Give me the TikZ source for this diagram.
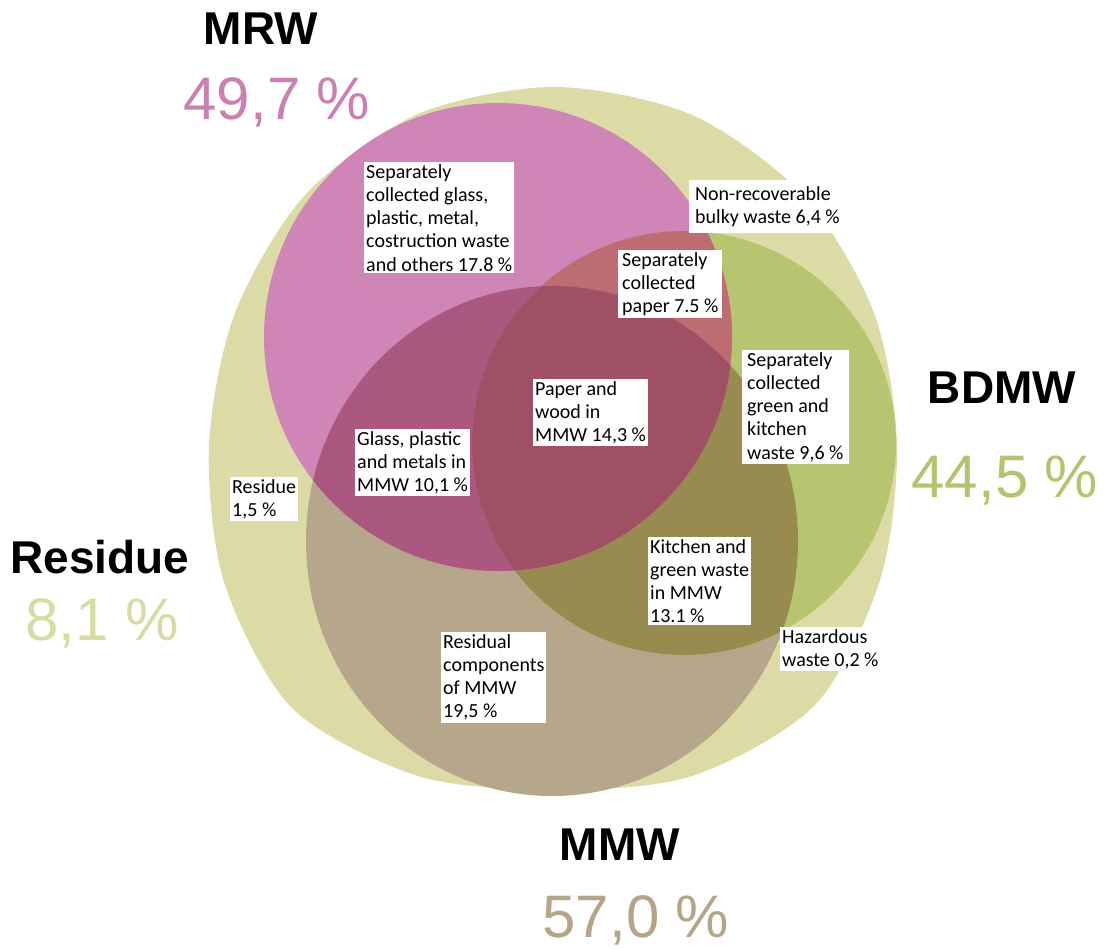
\documentclass[tikz,border=0pt]{standalone}
\usepackage{fontspec}
\setmainfont{Carlito}
\newfontfamily\headfont{Liberation Sans}

\definecolor{pale}{HTML}{DCDBA6}
\definecolor{mrwc}{HTML}{CF86B6}
\definecolor{bdc}{HTML}{B8C570}
\definecolor{mmwc}{HTML}{B6A68C}
\definecolor{mrwmmw}{HTML}{AA5880}
\definecolor{mrwbd}{HTML}{BD6C72}
\definecolor{bdmmw}{HTML}{978B50}
\definecolor{allc}{HTML}{9F5064}
\definecolor{mrwt}{HTML}{CC80B2}
\definecolor{bdt}{HTML}{B4C46E}
\definecolor{rest}{HTML}{D8DBA2}
\definecolor{mmwt}{HTML}{B4A58A}

\begin{document}
\begin{tikzpicture}[x=1pt, y=-1pt,
  lbl/.style={fill=white, inner sep=2pt, anchor=north west, align=left,
    font=\fontsize{20}{23.3}\selectfont},
  head/.style={anchor=base, font=\headfont\bfseries\fontsize{46}{50}\selectfont},
  pct/.style={anchor=base, font=\headfont\fontsize{60}{64}\selectfont}]
\useasboundingbox (0,0) rectangle (1107,949);
\coordinate (mrw) at (498,337);
\coordinate (bd) at (684,443);
\coordinate (mmw) at (552,541);
% residue (whole set)
\fill[pale] plot[smooth cycle] coordinates {(897,445) (880,580) (815,705) (692,776)
  (555,790) (418,776) (292,708) (224,582) (209,445) (235,313) (305,195) (418,114)
  (555,87) (692,115) (804,196) (874,313)};
% the three sets and their overlaps
\fill[mmwc] (mmw) ellipse [x radius=246pt, y radius=255pt];
\fill[bdc] (bd) circle [radius=212pt];
\begin{scope}
  \clip (bd) circle [radius=212pt];
  \fill[bdmmw] (mmw) ellipse [x radius=246pt, y radius=255pt];
\end{scope}
\fill[mrwc] (mrw) circle [radius=234pt];
\begin{scope}
  \clip (mrw) circle [radius=234pt];
  \fill[mrwmmw] (mmw) ellipse [x radius=246pt, y radius=255pt];
  \fill[mrwbd] (bd) circle [radius=212pt];
  \clip (bd) circle [radius=212pt];
  \fill[allc] (mmw) ellipse [x radius=246pt, y radius=255pt];
\end{scope}

% labels inside
\node[lbl] (glassr) at (364,162) {Separately\\collected glass,\\plastic, metal,\\costruction waste\\and others 17.8 \%};
\node[lbl, inner xsep=6pt, inner ysep=6pt] (bulky) at (689,180) {Non-recoverable\\bulky waste 6,4 \%};
\node[lbl, inner xsep=4pt] (paper) at (618,250) {Separately\\collected\\paper 7.5 \%};
\node[lbl, inner xsep=5pt] (greenk) at (742,350) {Separately\\collected\\green and\\kitchen\\waste 9,6 \%};
\node[lbl] (wood) at (533,379) {Paper and\\wood in\\MMW 14,3 \%};
\node[lbl] (glassm) at (355,429) {Glass, plastic\\and metals in\\MMW 10,1 \%};
\node[lbl] (resid) at (230,477) {Residue\\1,5 \%};
\node[lbl] (kitchen) at (648,537) {Kitchen and\\green waste\\in MMW\\13.1 \%};
\node[lbl] (residual) at (441,632) {Residual\\components\\of MMW\\19,5 \%};
\node[lbl] (hazard) at (780,627) {Hazardous\\waste 0,2 \%};

% set names and shares
\node[head] (mrwn) at (261,45) {MRW};
\node[pct, mrwt] (mrwp) at (277,120) {49,7 \%};
\node[head] (bdn) at (1002,403) {BDMW};
\node[pct, bdt] (bdp) at (1005,497) {44,5 \%};
\node[head] (resn) at (100,573) {Residue};
\node[pct, rest] (resp) at (102,640) {8,1 \%};
\node[head] (mmwn) at (620,860) {MMW};
\node[pct, mmwt] (mmwp) at (636,937) {57,0 \%};
\end{tikzpicture}
\end{document}
